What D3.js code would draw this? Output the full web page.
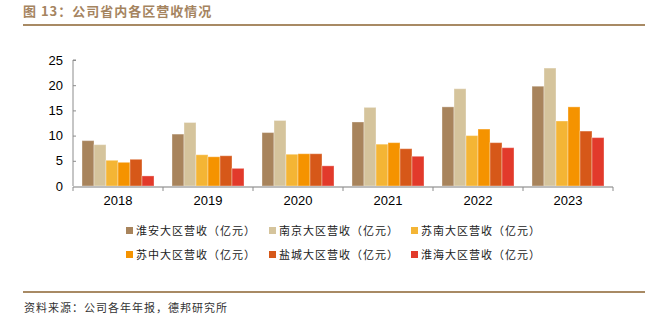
<!DOCTYPE html>
<html>
<head>
<meta charset="utf-8">
<script src="https://cdn.jsdelivr.net/npm/d3@7"></script>
<style>
  body { margin: 0; background: #fff; }
  svg { display: block; }
</style>
</head>
<body>
<div id="chart"></div>
<script>
const WIDTH = 655;
const HEIGHT = 321;
const MARGIN = { TOP: 60, LEFT: 73, RIGHT: 42, BOTTOM: 135 };

const years = ['2018', '2019', '2020', '2021', '2022', '2023'];
const regions = ['淮安大区营收（亿元）', '南京大区营收（亿元）', '苏南大区营收（亿元）',
                 '苏中大区营收（亿元）', '盐城大区营收（亿元）', '淮海大区营收（亿元）'];
const huaian   = [9.0, 10.3, 10.6, 12.7, 15.7, 19.8];
const nanjing  = [8.2, 12.6, 13.0, 15.6, 19.3, 23.4];
const sunan    = [5.1, 6.2, 6.3, 8.3, 10.0, 12.9];
const suzhong  = [4.7, 5.8, 6.4, 8.6, 11.3, 15.7];
const yancheng = [5.3, 6.0, 6.4, 7.4, 8.6, 10.9];
const huaihai  = [2.0, 3.5, 4.0, 5.9, 7.6, 9.6];
const yTicks = [0, 5, 10, 15, 20, 25];
const colors = ['#A8845C', '#D5C49C', '#F4B535', '#F59300', '#D65819', '#E23A2B'];

const series = [huaian, nanjing, sunan, suzhong, yancheng, huaihai];

const svg = d3.select('#chart').append('svg')
  .attr('width', WIDTH)
  .attr('height', HEIGHT);

// title + rules
svg.append('text')
  .attr('x', 23).attr('y', 16)
  .style('font-family', '"Noto Sans CJK SC", sans-serif')
  .style('font-size', '13px')
  .style('font-weight', 'bold')
  .style('letter-spacing', '1px')
  .style('fill', '#A5845F')
  .text('图 13：公司省内各区营收情况');

svg.append('line')
  .attr('x1', 23).attr('x2', 645).attr('y1', 25).attr('y2', 25)
  .style('stroke', '#A88A64').style('stroke-width', 2);

svg.append('line')
  .attr('x1', 23).attr('x2', 645).attr('y1', 292).attr('y2', 292)
  .style('stroke', '#A88A64').style('stroke-width', 2);

svg.append('text')
  .attr('x', 24).attr('y', 312)
  .style('font-family', '"Noto Sans CJK SC", sans-serif')
  .style('font-size', '11px')
  .style('letter-spacing', '1px')
  .style('fill', '#333')
  .text('资料来源：公司各年年报，德邦研究所');

const plotW = WIDTH - MARGIN.LEFT - MARGIN.RIGHT;
const plotH = HEIGHT - MARGIN.TOP - MARGIN.BOTTOM;

const g = svg.append('g')
  .attr('transform', `translate(${MARGIN.LEFT}, ${MARGIN.TOP})`);

const x0 = d3.scaleBand().domain(years).range([0, plotW])
  .paddingInner(0.2).paddingOuter(0.1);
const x1 = d3.scaleBand().domain(d3.range(regions.length)).range([0, x0.bandwidth()]);
const y = d3.scaleLinear().domain([0, 25]).range([plotH, 0]);

// y axis
const yAxis = g.append('g')
  .call(d3.axisRight(y).tickValues(yTicks).tickSize(3).tickFormat(d3.format('d')));
yAxis.select('.domain').attr('d', `M3,0H0V${plotH}`).style('stroke', '#8c8c8c');
yAxis.selectAll('.tick line').style('stroke', '#8c8c8c');
yAxis.selectAll('.tick text')
  .attr('x', -10).attr('text-anchor', 'end')
  .style('font-family', '"Liberation Sans", Arial, sans-serif')
  .style('font-size', '13px').style('fill', '#000');

// bars
years.forEach((yr, i) => {
  const grp = g.append('g').attr('transform', `translate(${x0(yr)}, 0)`);
  grp.selectAll('rect')
    .data(series.map((s, k) => ({ k: k, v: s[i] })))
    .enter()
    .append('rect')
    .attr('x', d => x1(d.k))
    .attr('y', d => y(d.v))
    .attr('width', x1.bandwidth())
    .attr('height', d => plotH - y(d.v))
    .attr('fill', d => colors[d.k])
    .style('stroke', '#fff')
    .style('stroke-opacity', 0.35)
    .style('stroke-width', 1);
});

// x axis
const xAxis = g.append('g').attr('transform', `translate(0, ${plotH + 1})`);
xAxis.append('line')
  .attr('x1', 0).attr('x2', plotW)
  .style('stroke', '#bdbdbd').style('stroke-width', 2);
const bounds = d3.range(years.length + 1).map(i => i * x0.step());
xAxis.selectAll('.xt').data(bounds).enter().append('line')
  .attr('x1', d => d).attr('x2', d => d).attr('y1', 0).attr('y2', 4)
  .style('stroke', '#8c8c8c');
xAxis.selectAll('text').data(years).enter().append('text')
  .attr('x', d => x0(d) + x0.bandwidth() / 2)
  .attr('y', 18)
  .attr('text-anchor', 'middle')
  .style('font-family', '"Liberation Sans", Arial, sans-serif')
  .style('font-size', '13px')
  .text(d => d);

// legend
const legend = svg.append('g');
const legX = [126, 269, 411];
const legY = [231, 255];
regions.forEach((r, i) => {
  const lx = legX[i % 3], ly = legY[Math.floor(i / 3)];
  legend.append('rect')
    .attr('x', lx).attr('y', ly - 4)
    .attr('width', 7).attr('height', 7)
    .attr('fill', colors[i]);
  legend.append('text')
    .attr('x', lx + 10).attr('y', ly + 4)
    .style('font-family', '"Noto Sans CJK SC", sans-serif')
    .style('font-size', '11px')
    .style('letter-spacing', '1px')
    .style('fill', '#222')
    .text(r);
});
</script>
</body>
</html>
